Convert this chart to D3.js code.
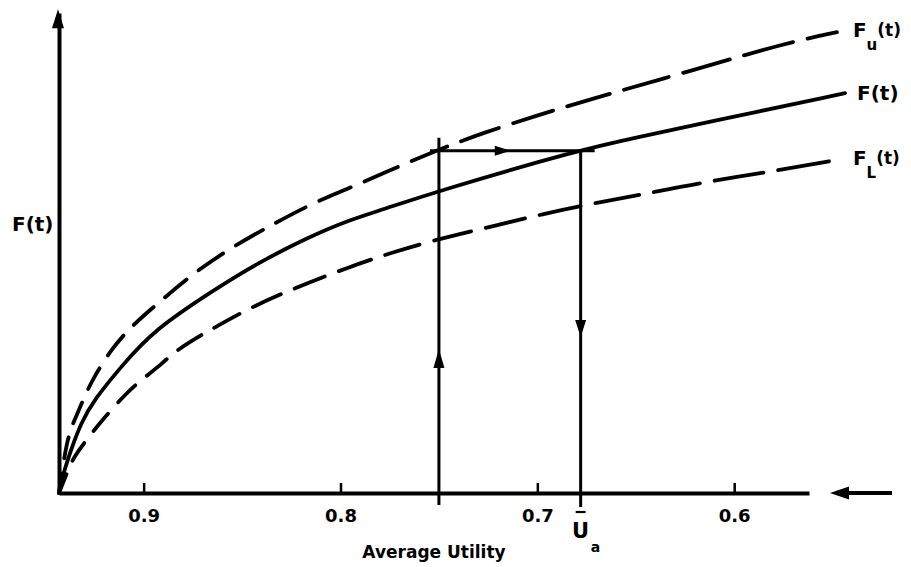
<!DOCTYPE html>
<html>
<head>
<meta charset="utf-8">
<script src="https://cdn.jsdelivr.net/npm/d3@7/dist/d3.min.js"></script>
<style>
  body { margin: 0; background: #fff; }
  svg text { font-family: "DejaVu Sans", sans-serif; font-weight: bold; fill: #000; }
</style>
</head>
<body>
<svg id="chart" width="911" height="567"></svg>
<script>
// x axis: average utility, decreasing to the right
var xTicks = [0.9, 0.8, 0.7, 0.6];
var tickLabels = ["0.9", "0.8", "0.7", "0.6"];

// F(t) solid curve
var uF = [0.943, 0.941, 0.9369, 0.9318, 0.9252, 0.9115, 0.8947, 0.8642, 0.8438, 0.8174, 0.7955, 0.7787, 0.7523, 0.6785, 0.648, 0.6175, 0.5437];
var vF = [0, 3.8, 9.0, 14.6, 19.4, 26.3, 34.0, 42.3, 47.5, 53.1, 56.9, 59.0, 62.7, 71.5, 74.2, 76.9, 83.3];

// F_u(t) upper dashed curve
var uFu = [0.943, 0.9389, 0.9344, 0.9293, 0.9252, 0.9166, 0.9089, 0.9008, 0.8896, 0.8759, 0.8575, 0.8397, 0.8143, 0.7955, 0.7802, 0.7517, 0.7278, 0.6989, 0.6775, 0.6175, 0.5732, 0.5478];
var vFu = [0, 11.7, 15.8, 20.8, 24.2, 29.8, 33.5, 36.7, 40.6, 45.4, 50.6, 54.8, 60.4, 63.5, 66.3, 71.3, 75.0, 78.8, 81.5, 88.5, 93.8, 96.0];

// F_L(t) lower dashed curve
var uFL = [0.943, 0.9369, 0.9338, 0.9252, 0.9201, 0.9084, 0.9013, 0.8896, 0.8845, 0.8708, 0.8642, 0.8464, 0.8245, 0.7955, 0.7762, 0.7523, 0.7243, 0.6953, 0.6785, 0.648, 0.6175, 0.5768, 0.5478];
var vFL = [0, 6.3, 8.5, 13.1, 15.6, 21.0, 23.5, 27.3, 29.4, 32.9, 34.4, 38.5, 42.5, 47.1, 49.8, 52.7, 55.4, 58.3, 59.8, 62.1, 64.6, 67.3, 69.4];

// the construction: up from 0.75 to F_u, across to F, down to U_a
var uStart = 0.75;
var uBarA = 0.678;
var fLevel = 71.3;

var svg = d3.select('#chart');

var x = d3.scaleLinear().domain([0.943, 0.562]).range([59, 809]);
var y = d3.scaleLinear().domain([0, 100]).range([493, 13]);

function zipPts(us, vs) {
	return us.map(function(u, i){ return [u, vs[i]]; });
}

var line = d3.line()
	.x(function(d){ return x(d[0]); })
	.y(function(d){ return y(d[1]); })
	.curve(d3.curveBasis);

// dashes get longer along the curve, like the hand drawing
function growingDash(len, d0, d1, gap) {
	var s = 0, arr = [];
	while (s < len) {
		var d = d0 + (d1 - d0) * s / len;
		arr.push(d.toFixed(1), gap);
		s += d + gap;
	}
	return arr.join(',');
}

function arrowHead(tx, ty, dir, len, half) {
	var pts;
	if (dir == 'up') pts = [[tx, ty], [tx - half, ty + len], [tx + half, ty + len]];
	if (dir == 'down') pts = [[tx, ty], [tx - half, ty - len], [tx + half, ty - len]];
	if (dir == 'left') pts = [[tx, ty], [tx + len, ty - half], [tx + len, ty + half]];
	if (dir == 'right') pts = [[tx, ty], [tx - len, ty - half], [tx - len, ty + half]];
	svg.append('polygon')
		.attr('points', pts.map(function(p){ return p.join(','); }).join(' '))
		.attr('fill', '#000');
}

// x axis, ticks point up into the plot
var xAxis = d3.axisBottom(x)
	.tickValues(xTicks)
	.tickFormat(function(d, i){ return tickLabels[i]; })
	.tickSizeInner(-10)
	.tickSizeOuter(0)
	.tickPadding(16);

var gx = svg.append('g')
	.attr('transform', 'translate(0,' + y(0) + ')')
	.call(xAxis);
gx.select('.domain').attr('stroke', '#000').attr('stroke-width', 4);
gx.selectAll('.tick line').attr('stroke', '#000').attr('stroke-width', 2.5);
gx.selectAll('.tick text')
	.attr('font-family', '"DejaVu Sans", sans-serif')
	.attr('font-weight', 'bold')
	.attr('font-size', 18)
	.attr('fill', '#000');

// y axis, no ticks
var gy = svg.append('g')
	.attr('transform', 'translate(' + x(0.943) + ',0)')
	.call(d3.axisLeft(y).tickValues([]).tickSizeOuter(0));
gy.select('.domain').attr('stroke', '#000').attr('stroke-width', 4);
arrowHead(x(0.943) - 1, y(100.8), 'up', 19, 6);

// the separate arrow to the right of the x axis
svg.append('line')
	.attr('x1', 846).attr('x2', 892)
	.attr('y1', y(0)).attr('y2', y(0))
	.attr('stroke', '#000').attr('stroke-width', 4);
arrowHead(830, y(0), 'left', 19, 6.5);

// curves
var curves = [
	{ pts: zipPts(uF, vF), dashed: false },
	{ pts: zipPts(uFu, vFu), dashed: true },
	{ pts: zipPts(uFL, vFL), dashed: true }
];

curves.forEach(function(c){
	var p = svg.append('path')
		.datum(c.pts)
		.attr('d', line)
		.attr('fill', 'none')
		.attr('stroke', '#000')
		.attr('stroke-width', 3.8)
		.attr('stroke-linecap', 'round');
	if (c.dashed) {
		var len = p.node().getTotalLength();
		p.attr('stroke-dasharray', growingDash(len, 20, 54, 15));
	}
});

// construction lines
var yLevel = y(fLevel);
svg.append('line')
	.attr('x1', x(uStart)).attr('x2', x(uStart))
	.attr('y1', y(0) + 12).attr('y2', yLevel - 13)
	.attr('stroke', '#000').attr('stroke-width', 3);
arrowHead(x(uStart), y(30), 'up', 19, 5.5);

svg.append('line')
	.attr('x1', x(uStart) - 9).attr('x2', x(uBarA) + 14)
	.attr('y1', yLevel).attr('y2', yLevel)
	.attr('stroke', '#000').attr('stroke-width', 3);
arrowHead(x(0.7135), yLevel, 'right', 16, 5);

svg.append('line')
	.attr('x1', x(uBarA)).attr('x2', x(uBarA))
	.attr('y1', yLevel).attr('y2', y(0) + 14)
	.attr('stroke', '#000').attr('stroke-width', 3);
arrowHead(x(uBarA), y(32.5), 'down', 17, 5.5);

// U_a with overbar under the axis
var ux = x(uBarA);
svg.append('text')
	.attr('x', ux).attr('y', 538)
	.attr('text-anchor', 'middle')
	.attr('font-size', 21)
	.text('U');
svg.append('line')
	.attr('x1', ux - 5).attr('x2', ux + 5)
	.attr('y1', 512).attr('y2', 512)
	.attr('stroke', '#000').attr('stroke-width', 2.2);
svg.append('text')
	.attr('x', ux + 10).attr('y', 552)
	.attr('font-size', 14)
	.text('a');

// axis titles
svg.append('text')
	.attr('x', 434).attr('y', 558)
	.attr('text-anchor', 'middle')
	.attr('font-size', 17)
	.text('Average Utility');

svg.append('text')
	.attr('x', 12).attr('y', 231)
	.attr('font-size', 20)
	.text('F(t)');

// curve labels at the right ends
function curveLabel(us, vs, dx, dy, sub) {
	var n = us.length - 1;
	var t = svg.append('text')
		.attr('x', x(us[n]) + dx)
		.attr('y', y(vs[n]) + dy)
		.attr('font-size', 20);
	t.append('tspan').text('F');
	if (sub) {
		t.append('tspan').attr('font-size', 15).attr('dy', 13).text(sub);
		t.append('tspan').attr('font-size', 17).attr('dy', -14).text('(t)');
	} else {
		t.append('tspan').text('(t)');
	}
}

curveLabel(uFu, vFu, 16, 5, 'u');
curveLabel(uF, vF, 12, 7, null);
curveLabel(uFL, vFL, 16, 5, 'L');
</script>
</body>
</html>
